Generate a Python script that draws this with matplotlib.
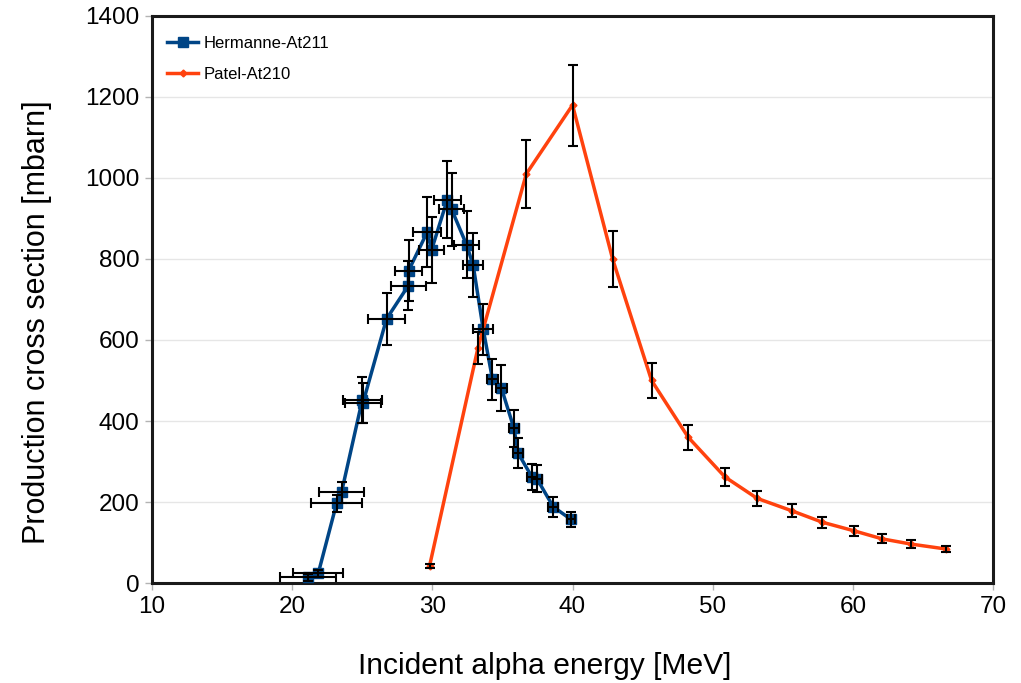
import matplotlib
matplotlib.use("Agg")
import matplotlib.pyplot as plt
from matplotlib.lines import Line2D

plt.rcParams['font.family'] = ['Liberation Sans', 'DejaVu Sans']

# Hermanne-At211 data
h_energy = [21.15, 21.86, 23.17, 23.52, 25.0, 25.05, 26.73, 28.28, 28.3, 29.64, 29.94,
            31.06, 31.37, 32.44, 32.91, 33.63, 34.29, 34.93, 35.82, 36.13, 37.1, 37.45,
            38.63, 39.89]
h_xs = [14, 24, 197, 224, 452, 445, 652, 734, 771, 867, 822,
        946, 923, 835, 785, 626, 503, 481, 382, 320, 262, 258,
        188, 157]
h_xerr = [2.0, 1.8, 1.8, 1.6, 1.4, 1.3, 1.3, 1.25, 0.95, 1.0, 0.9,
          0.95, 0.9, 0.9, 0.7, 0.7, 0.4, 0.4, 0.35, 0.35, 0.35, 0.35,
          0.35, 0.3]
h_yerr = [8, 8, 21, 26, 56, 50, 65, 60, 75, 87, 81,
          95, 90, 83, 78, 62, 50, 57, 45, 37, 33, 33,
          24, 19]

# Patel-At210 data
p_energy = [29.8, 33.25, 36.7, 40.0, 42.86, 45.64, 48.25, 50.87, 53.17, 55.67,
            57.83, 60.07, 62.09, 64.17, 66.63]
p_xs = [42, 580, 1010, 1180, 800, 500, 360, 262, 209, 178,
        150, 129, 109, 96, 84]
p_yerr = [5, 40, 84, 100, 68, 42, 31, 22, 19, 16,
          14, 12, 11, 10, 8]

x_ticks = [10, 20, 30, 40, 50, 60, 70]
y_ticks = [0, 200, 400, 600, 800, 1000, 1200, 1400]

blue = '#004586'
orange = '#ff420e'

fig = plt.figure(figsize=(10.21, 6.83), dpi=100)
ax = fig.add_axes([0.1489, 0.1464, 0.8237, 0.8302])

ax.plot(h_energy, h_xs, color=blue, lw=2.5, marker='s', ms=6.5, zorder=3)
ax.plot(p_energy, p_xs, color=orange, lw=2.5, marker='D', ms=3.5, zorder=3)

ax.errorbar(h_energy, h_xs, xerr=h_xerr, yerr=h_yerr, fmt='none', ecolor='black',
            elinewidth=1.5, capsize=3.5, capthick=1.5, zorder=4)
ax.errorbar(p_energy, p_xs, yerr=p_yerr, fmt='none', ecolor='black',
            elinewidth=1.5, capsize=3.5, capthick=1.5, zorder=4)

ax.set_xlim(10, 70)
ax.set_ylim(0, 1400)
ax.set_xticks(x_ticks)
ax.set_yticks(y_ticks)
ax.yaxis.grid(True, color='#e6e6e6', lw=1)
ax.set_axisbelow(True)
for s in ax.spines.values():
    s.set_linewidth(2.2)
    s.set_color('#1a1a1a')
ax.tick_params(axis='both', labelsize=17.5, length=5, width=1, color='#b3b3b3',
               direction='out', pad=4)

ax.set_xlabel('Incident alpha energy [MeV]', fontsize=21.6)
ax.set_ylabel('Production cross section [mbarn]', fontsize=22)
# positions in axes coordinates
ax.xaxis.set_label_coords(0.4667, -0.1217)
ax.yaxis.set_label_coords(-0.1189, 0.4604)

handles = [Line2D([], [], color=blue, lw=2.5, marker='s', ms=6.5),
           Line2D([], [], color=orange, lw=2.5, marker='D', ms=3.5)]
ax.legend(handles, ['Hermanne-At211', 'Patel-At210'], loc='upper left',
          bbox_to_anchor=(0.0, 0.992), frameon=False, fontsize=12,
          labelspacing=1.0, handlelength=1.86, handletextpad=0.35, borderaxespad=0.5)

fig.savefig('out.png', dpi=100)
